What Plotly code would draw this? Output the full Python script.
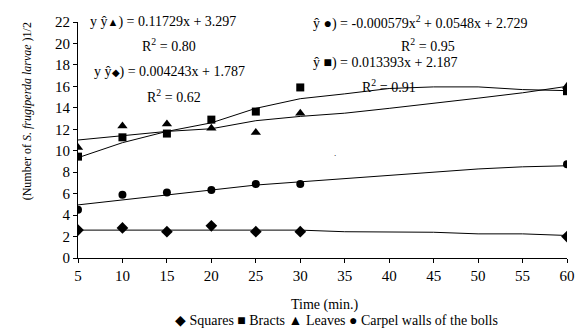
import plotly.graph_objects as go

# Data
time_obs = [5, 10, 15, 20, 25, 30, 60]
squares = [2.6, 2.8, 2.45, 3.0, 2.45, 2.45, 2.0]
bracts = [9.45, 11.25, 11.6, 12.9, 13.65, 15.9, 15.55]
leaves = [10.3, 12.3, 12.5, 12.1, 11.7, 13.5, 16.0]
carpel = [4.5, 5.9, 6.1, 6.35, 6.9, 6.9, 8.75]

# Trend lines at each tick
time_trend = [5, 10, 15, 20, 25, 30, 35, 40, 45, 50, 55, 60]
trend_squares = [2.6, 2.6, 2.6, 2.6, 2.6, 2.6, 2.45, 2.45, 2.4, 2.25, 2.25, 2.1]
trend_bracts = [9.35, 10.75, 11.8, 12.6, 13.95, 14.85, 15.3, 15.8, 15.95, 15.95, 15.7, 15.6]
trend_leaves = [11.0, 11.4, 11.8, 12.05, 12.8, 13.2, 13.5, 13.95, 14.4, 14.9, 15.4, 16.0]
trend_carpel = [4.95, 5.4, 5.9, 6.35, 6.8, 7.1, 7.4, 7.75, 8.0, 8.3, 8.5, 8.6]

x_ticks = [5, 10, 15, 20, 25, 30, 35, 40, 45, 50, 55, 60]
y_ticks = [0, 2, 4, 6, 8, 10, 12, 14, 16, 18, 20, 22]

FONT = "Liberation Serif"

W, H = 587, 334
ML, MR, MT, MB = 78, 17, 22, 76
PW, PH = W - ML - MR, H - MT - MB


def px2paper(px, py):
    return (px - ML) / PW, 1 - (py - MT) / PH


fig = go.Figure()

for trend in [trend_squares, trend_carpel, trend_bracts, trend_leaves]:
    fig.add_trace(go.Scatter(x=time_trend, y=trend, mode="lines",
                             line=dict(color="black", width=1),
                             showlegend=False, hoverinfo="skip"))

series = [
    ("Squares", squares, "diamond", 9),
    ("Bracts", bracts, "square", 8),
    ("Leaves", leaves, "triangle-up", 9),
    ("Carpel walls of the bolls", carpel, "circle", 8),
]
for name, vals, sym, sz in series:
    fig.add_trace(go.Scatter(x=time_obs, y=vals, mode="markers", name=name, showlegend=False,
                             marker=dict(symbol=sym, size=sz, color="black")))

ann = [
    (88, 22, "y ŷ<span style='font-size:11px'>▲</span>) = 0.11729x + 3.297", "left"),
    (170, 45, "R<sup>2</sup> = 0.80", "center"),
    (92, 72, "y ŷ<span style='font-size:10px'>◆</span>) = 0.004243x + 1.787", "left"),
    (175, 96, "R<sup>2</sup> = 0.62", "center"),
    (312, 22, "ŷ ●) = -0.000579x<sup>2</sup> + 0.0548x + 2.729", "left"),
    (430, 45, "R<sup>2</sup> = 0.95", "center"),
    (312, 63, "ŷ ■) = 0.013393x + 2.187", "left"),
    (391, 86, "R<sup>2</sup> = 0.91", "center"),
]
for px, py, txt, al in ann:
    ax, ay = px2paper(px, py)
    fig.add_annotation(x=ax, y=ay, xref="paper", yref="paper",
                       text=txt, showarrow=False, xanchor=al, yanchor="middle",
                       font=dict(family=FONT, size=14, color="black"))

# y-axis title (mixed italic)
ax, ay = px2paper(27, 111)
fig.add_annotation(x=ax, y=ay, xref="paper", yref="paper", showarrow=False, textangle=-90,
                   text="(Number of <i>S. frugiperda larvae</i> )1/2",
                   font=dict(family=FONT, size=12, color="black"),
                   xanchor="center", yanchor="middle")

# x-axis title
ax, ay = px2paper(326, 305)
fig.add_annotation(x=ax, y=ay, xref="paper", yref="paper", showarrow=False,
                   text="Time (min.)", font=dict(family=FONT, size=14, color="black"),
                   xanchor="center", yanchor="middle")

# legend row
legend_names = [s[0] for s in series]
legend_syms = ["◆", "■", "▲", "●"]
legend_text = " ".join(f"{sy} {nm}" for sy, nm in zip(legend_syms, legend_names))
ax, ay = px2paper(338, 320)
fig.add_annotation(x=ax, y=ay, xref="paper", yref="paper", showarrow=False,
                   text=legend_text, font=dict(family=FONT, size=14, color="black"),
                   xanchor="center", yanchor="middle")

# small stray dot in the original
ax, ay = px2paper(337, 153)
fig.add_annotation(x=ax, y=ay, xref="paper", yref="paper",
                   text=".", showarrow=False, font=dict(family=FONT, size=9, color="black"))

fig.update_layout(
    width=W, height=H,
    margin=dict(l=ML, r=MR, t=MT, b=MB),
    paper_bgcolor="white", plot_bgcolor="white",
    font=dict(family=FONT, size=14, color="black"),
    showlegend=False,
    xaxis=dict(range=[5, 60], tickvals=x_ticks, showline=True, linecolor="black", linewidth=1,
               ticks="outside", ticklen=4, tickcolor="black", showgrid=False, zeroline=False,
               tickfont=dict(family=FONT, size=15)),
    yaxis=dict(range=[0, 22], tickvals=y_ticks, showline=True, linecolor="black", linewidth=1,
               ticks="outside", ticklen=4, tickcolor="black", showgrid=False, zeroline=False,
               tickfont=dict(family=FONT, size=15)),
)

fig.write_html("out.html")
